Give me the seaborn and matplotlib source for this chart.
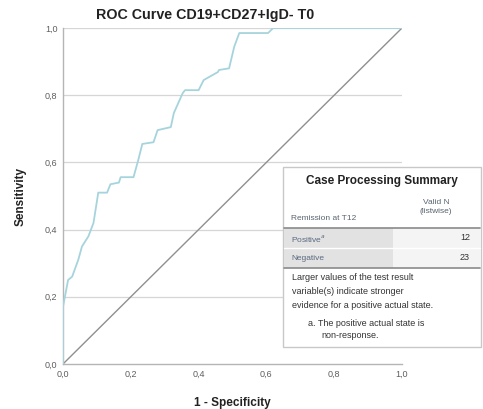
import matplotlib
matplotlib.use("Agg")
import matplotlib.pyplot as plt
import seaborn as sns
import pandas as pd
from matplotlib.patches import Rectangle

# ROC curve coordinates (1 - specificity, sensitivity)
fpr = [0.0, 0.0, 0.015, 0.027, 0.045, 0.056, 0.075, 0.09, 0.104, 0.13, 0.14,
       0.165, 0.17, 0.208, 0.222, 0.234, 0.267, 0.279, 0.318, 0.327, 0.353,
       0.36, 0.40, 0.415, 0.457, 0.46, 0.49, 0.505, 0.52, 0.605, 0.62, 1.0]
tpr = [0.0, 0.17, 0.25, 0.26, 0.31, 0.35, 0.38, 0.42, 0.51, 0.51, 0.535,
       0.54, 0.556, 0.556, 0.607, 0.655, 0.66, 0.696, 0.705, 0.747, 0.806,
       0.815, 0.815, 0.845, 0.869, 0.875, 0.88, 0.944, 0.985, 0.985, 1.0, 1.0]
ref_line = [0.0, 1.0]

ticks = [0.0, 0.2, 0.4, 0.6, 0.8, 1.0]
tick_labels = ["0,0", "0,2", "0,4", "0,6", "0,8", "1,0"]

title = "ROC Curve CD19+CD27+IgD- T0"
xlabel = "1 - Specificity"
ylabel = "Sensitivity"

table_title = "Case Processing Summary"
row_header = "Remission at T12"
col_header = "Valid N\n(listwise)"
row_labels = ["Positive$^{a}$", "Negative"]
row_counts = [12, 23]
note_lines = ["Larger values of the test result",
              "variable(s) indicate stronger",
              "evidence for a positive actual state."]
footnote_lines = ["a. The positive actual state is",
                  "non-response."]

sns.set_style("white")
plt.rcParams["font.family"] = ["Liberation Sans", "DejaVu Sans"]

W, H = 483, 409
fig = plt.figure(figsize=(W / 100, H / 100), dpi=100)
ax = fig.add_axes([63 / W, 1 - 364 / H, (402 - 63) / W, (364 - 28) / H])

curve = pd.DataFrame({"fpr": fpr, "tpr": tpr})
diag = pd.DataFrame({"x": ref_line, "y": ref_line})

for t in ticks[1:]:
    ax.axhline(t, color="#d6d6d6", lw=0.9, zorder=0)

sns.lineplot(data=diag, x="x", y="y", ax=ax, color="#8f8f8f", lw=1.0,
             sort=False, estimator=None, zorder=2)
sns.lineplot(data=curve, x="fpr", y="tpr", ax=ax, color="#a6d4dc", lw=1.3,
             sort=False, estimator=None, zorder=3)

ax.set_xlim(0, 1)
ax.set_ylim(0, 1)
ax.set_xticks(ticks)
ax.set_xticklabels(tick_labels)
ax.set_yticks(ticks)
ax.set_yticklabels(tick_labels)
ax.tick_params(length=0, labelsize=6.5, colors="#5e5e5e", pad=4)
for s in ["top", "right"]:
    ax.spines[s].set_visible(False)
for s in ["left", "bottom"]:
    ax.spines[s].set_color("#b5b5b5")
    ax.spines[s].set_linewidth(1.0)
ax.set_xlabel(xlabel, fontsize=8.5, fontweight="bold", color="#222222", labelpad=13)
ax.set_ylabel(ylabel, fontsize=8.5, fontweight="bold", color="#222222", labelpad=13)
ax.set_title("")

# overlay in pixel coordinates for the title and summary table
ov = fig.add_axes([0, 0, 1, 1], zorder=5)
ov.set_xlim(0, W)
ov.set_ylim(H, 0)
ov.axis("off")
ov.patch.set_alpha(0)

ov.text(205, 15, title, ha="center", va="center", fontsize=10.3,
        fontweight="bold", color="#222222")

# table frame
ov.add_patch(Rectangle((283, 167), 198, 180, facecolor="white",
                       edgecolor="#c8c8c8", lw=1.0, zorder=1))
ov.text(382, 181, table_title, ha="center", va="center", fontsize=8.5,
        fontweight="bold", color="#222222", zorder=3)
ov.text(436, 207, col_header, ha="center", va="center", fontsize=6,
        color="#5a6470", linespacing=1.3, zorder=3)
ov.text(291, 219, row_header, ha="left", va="center", fontsize=6,
        color="#5a6470", zorder=3)

row_top = 228
row_h = 20
for i, (lab, n) in enumerate(zip(row_labels, row_counts)):
    y0 = row_top + i * row_h
    ov.add_patch(Rectangle((284, y0), 109, row_h, facecolor="#e2e2e2",
                           edgecolor="none", zorder=2))
    ov.add_patch(Rectangle((393, y0), 87, row_h, facecolor="#f4f4f4",
                           edgecolor="none", zorder=2))
    ov.text(291, y0 + row_h / 2, lab, ha="left", va="center", fontsize=6,
            color="#5a6a80", zorder=3)
    ov.text(470, y0 + row_h / 2, str(n), ha="right", va="center", fontsize=6.5,
            color="#333333", zorder=3)
ov.plot([284, 480], [row_top, row_top], color="#8a8a8a", lw=1.2, zorder=3)
ov.plot([284, 480], [row_top + row_h, row_top + row_h], color="#ffffff", lw=1.0, zorder=3)
ov.plot([284, 480], [row_top + 2 * row_h, row_top + 2 * row_h], color="#8a8a8a",
        lw=1.2, zorder=3)

for j, line in enumerate(note_lines):
    ov.text(292, 277 + j * 14, line, ha="left", va="center", fontsize=6.5,
            color="#333333", zorder=3)
ov.text(308, 323, footnote_lines[0], ha="left", va="center", fontsize=6.5,
        color="#333333", zorder=3)
ov.text(321, 336, footnote_lines[1], ha="left", va="center", fontsize=6.5,
        color="#333333", zorder=3)

fig.savefig("out.png", dpi=100)
